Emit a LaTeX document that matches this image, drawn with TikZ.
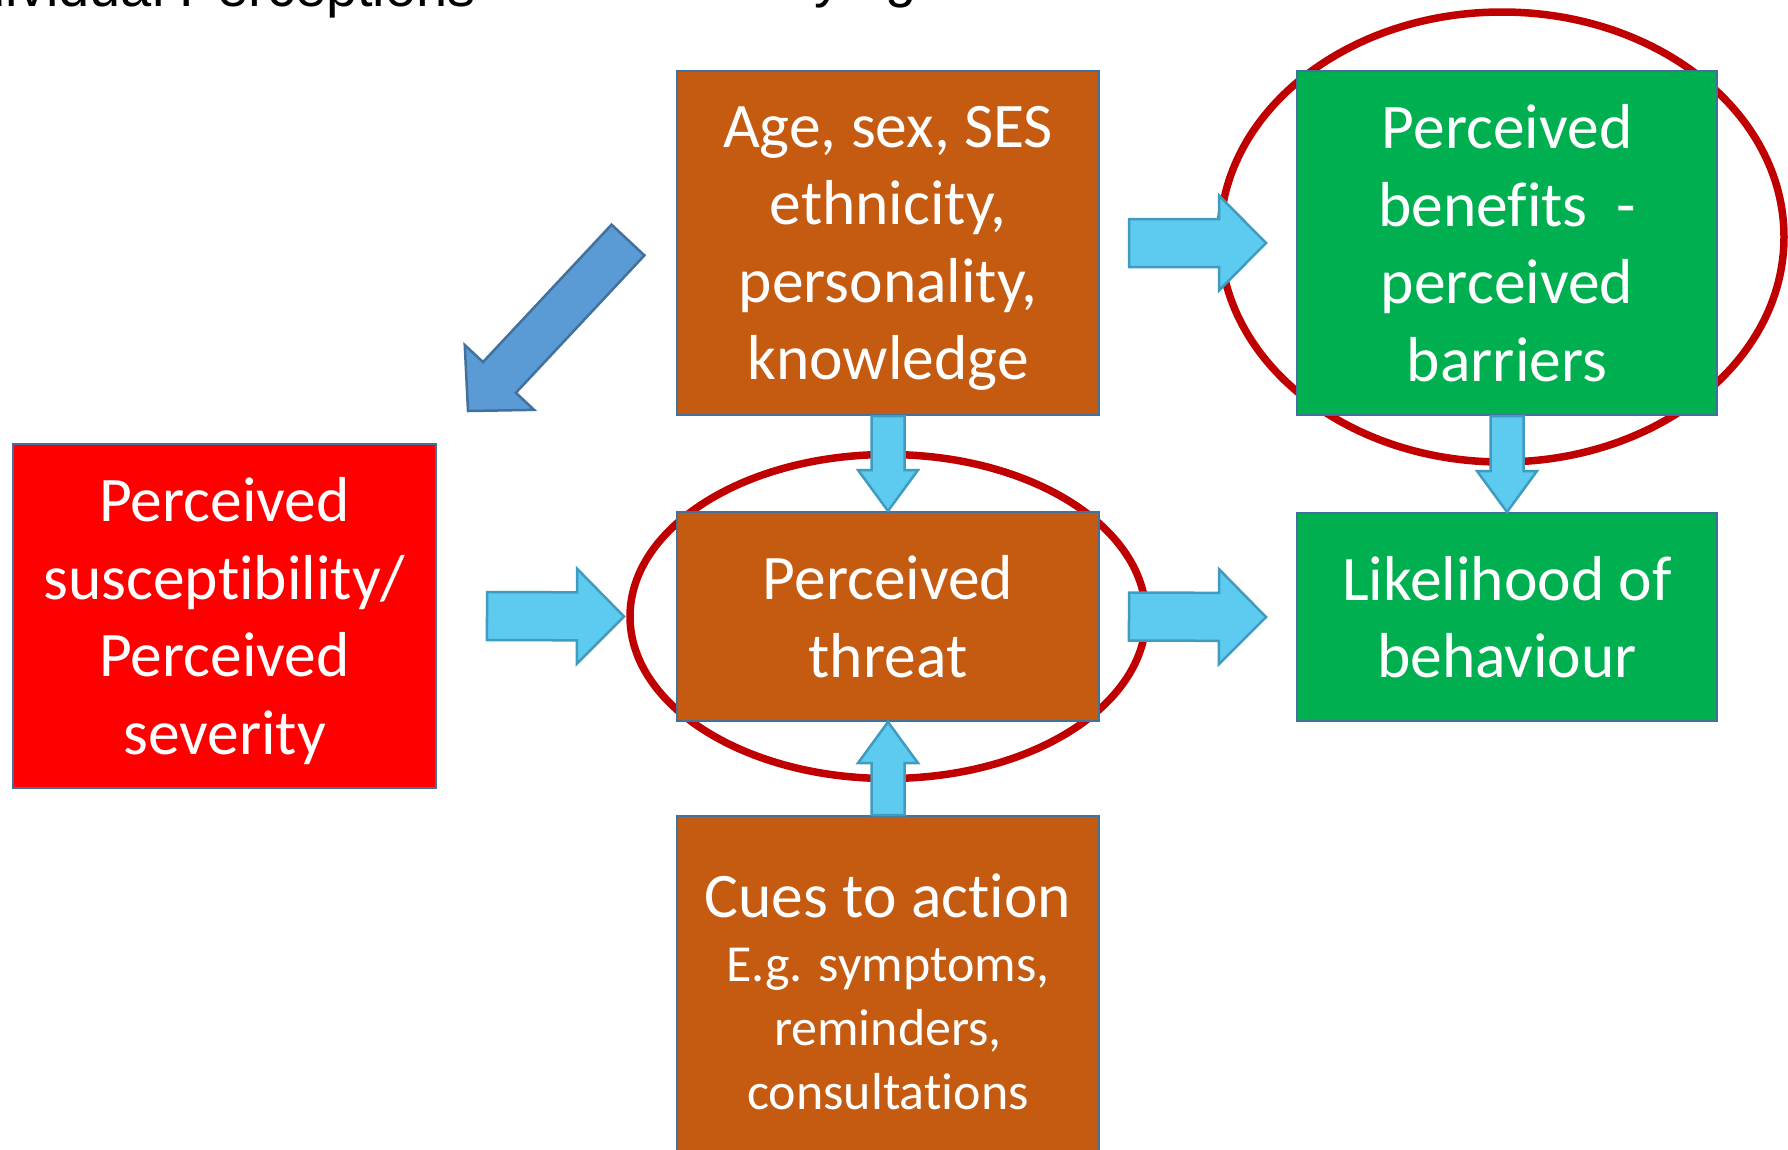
\documentclass[tikz,border=0pt]{standalone}
\usepackage{fontspec}
\setmainfont{Carlito}[Ligatures=NoCommon]
\newfontfamily\headfont{Liberation Sans}
\usetikzlibrary{calc, backgrounds}

\definecolor{hbmorange}{HTML}{C55A11}
\definecolor{hbmgreen}{HTML}{00B050}
\definecolor{hbmred}{HTML}{FF0000}
\definecolor{boxline}{HTML}{41719C}
\definecolor{ringred}{HTML}{C00000}
\definecolor{arrowfill}{HTML}{5DCAEF}
\definecolor{arrowline}{HTML}{3F9BC0}
\definecolor{diagfill}{HTML}{5B9BD5}

% [style]{from}{to}{half shaft}{half head}{head length}
\newcommand{\fatarrow}[6][]{%
  \coordinate (fa-h) at ($(#3)!#6!(#2)$);
  \draw[#1] ($(#2)!#4!90:(#3)$) -- ($(fa-h)!#4!90:(#3)$) -- ($(fa-h)!#5!90:(#3)$)
    -- (#3) -- ($(fa-h)!#5!-90:(#3)$) -- ($(fa-h)!#4!-90:(#3)$) -- ($(#2)!#4!-90:(#3)$) -- cycle;}

\begin{document}
\begin{tikzpicture}[x=1pt, y=-1pt,
    box/.style = {draw=boxline, line width=2pt, minimum width=422pt, inner sep=0pt, text depth=0pt,
      text=white, align=center, font=\fontsize{63.5}{77.5}\selectfont},
    ring/.style = {draw=ringred, line width=7.5pt},
    bluearrow/.style = {fill=arrowfill, draw=arrowline, line width=2.5pt, line join=miter},
    diagarrow/.style = {fill=diagfill, draw=boxline, line width=2.5pt, line join=miter},
    head/.style = {inner sep=0pt, font=\headfont\fontsize{56}{60}\selectfont}]
    \clip (0,0) rectangle (1788,1149);

    \node[head, anchor=base east] (percept) at (476,6) {Individual Perceptions};
    \node[head, anchor=base west] (modif) at (677,-4) {Modifying Factors};

    \node[box, fill=hbmorange, minimum height=344pt] (age) at (888,243)
      {Age, sex, SES\\ethnicity,\\personality,\\knowledge};
    \node[box, fill=hbmgreen, minimum width=420pt, minimum height=344pt] (benefits) at (1507,243)
      {Perceived\\benefits~~-\\perceived\\barriers};
    \node[box, fill=hbmred, minimum width=423pt, minimum height=344pt] (suscept) at (224.5,616)
      {Perceived\\susceptibility/\\Perceived\\severity};
    \node[box, fill=hbmorange, minimum height=209pt] (threat) at (888,616.5) {Perceived\\threat};
    \node[box, fill=hbmgreen, minimum width=420pt, minimum height=208pt] (likely) at (1507,617)
      {Likelihood of\\behaviour};
    \node[box, fill=hbmorange, minimum height=351pt, font=\fontsize{52}{64}\selectfont] (cues) at (888,991.5)
      {{\fontsize{63.5}{70}\selectfont Cues to action}\\E.g. symptoms,\\reminders,\\consultations};

    \begin{scope}[on background layer]
        \draw[ring] (threat.center) ellipse [x radius=258pt, y radius=162pt];
        \draw[ring] ($(benefits.center)+(-5,-6)$) ellipse [x radius=282pt, y radius=225pt];
    \end{scope}

    \coordinate (st) at ($(suscept.east)+(50,0)$);
    \coordinate (tt) at ($(threat.west)+(-52,0)$);
    \coordinate (ts) at ($(threat.east)+(29,0)$);
    \coordinate (lt) at ($(likely.west)+(-30,0)$);
    \coordinate (as) at ($(age.east)+(29,0)$);
    \coordinate (bt) at ($(benefits.west)+(-30,0)$);
    \coordinate (ds) at ($(age.west)+(-48,-3)$);
    \coordinate (dt) at ($(suscept.north east)+(31,-32)$);

    \fatarrow[bluearrow]{st}{tt}{24pt}{47.5pt}{47pt}
    \fatarrow[bluearrow]{ts}{lt}{24pt}{47.5pt}{47pt}
    \fatarrow[bluearrow]{as}{bt}{24pt}{47.5pt}{47pt}
    \fatarrow[bluearrow]{age.south}{threat.north}{16.5pt}{30pt}{41pt}
    \fatarrow[bluearrow]{benefits.south}{likely.north}{16.5pt}{30pt}{41pt}
    \fatarrow[bluearrow]{cues.north}{threat.south}{16.5pt}{30pt}{41pt}
    \fatarrow[diagarrow]{ds}{dt}{22.5pt}{47.5pt}{46pt}

\end{tikzpicture}
\end{document}
